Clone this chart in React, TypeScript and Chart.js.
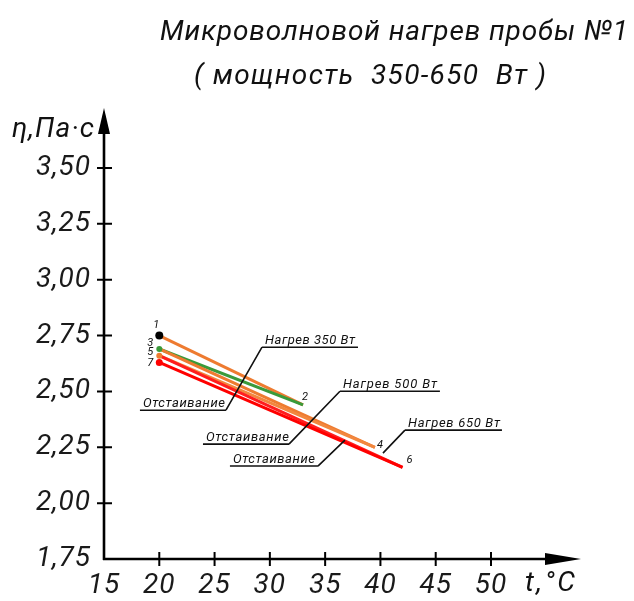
import React, { useEffect, useRef } from 'react';
import { Chart, registerables } from 'chart.js';

Chart.register(...registerables);

const FONT = "Roboto, 'Noto Sans', sans-serif";

// ---------- data ----------
const titleLines = ['Микроволновой нагрев пробы №1', '( мощность  350-650  Вт )'];
const yAxisTitle = 'η,Па·с';
const xAxisTitle = 't,°C';

const xMin = 15;
const xMax = 50;
const xStep = 5;
const yMin = 1.75;
const yMax = 3.5;
const yStep = 0.25;
const yTickLabels = ['1,75', '2,00', '2,25', '2,50', '2,75', '3,00', '3,25', '3,50'];

const pointNames = ['1', '2', '3', '4', '5', '6', '7'];
const pointTemp = [20, 33.0, 20, 39.5, 20, 42.0, 20];
const pointVisc = [2.75, 2.44, 2.69, 2.25, 2.66, 2.16, 2.63];

const stageNames = ['Нагрев 350 Вт', 'Отстаивание', 'Нагрев 500 Вт', 'Отстаивание', 'Нагрев 650 Вт', 'Отстаивание'];
const stageStart = [0, 1, 2, 3, 4, 5];
const stageEnd = [1, 2, 3, 4, 5, 6];

// callout labels (underline from noteT1 to noteT2 at noteVisc)
const noteTexts = ['Нагрев 350 Вт', 'Отстаивание', 'Нагрев 500 Вт', 'Отстаивание', 'Нагрев 650 Вт', 'Отстаивание'];
const noteT1 = [29.29, 18.25, 36.34, 23.95, 42.22, 26.39];
const noteT2 = [37.97, 26.03, 45.38, 31.73, 50.99, 34.35];
const noteVisc = [2.698, 2.416, 2.501, 2.264, 2.327, 2.166];
// leader lines
const leaderT1 = [29.29, 36.34, 42.22, 34.35];
const leaderV1 = [2.698, 2.501, 2.327, 2.166];
const leaderT2 = [26.03, 31.73, 40.23, 36.79];
const leaderV2 = [2.416, 2.264, 2.224, 2.282];

// ---------- styles ----------
const stageColors = ['#EE7B30', '#3A9A3A', '#EE7B30', '#F2873E', '#FF1E1E', '#FF0000'];
const markerColors = ['#000000', null, '#3A9A3A', null, '#EE7B30', null, '#FF0000'];
const markerRadius = [4, 0, 3, 0, 3, 0, 3.5];
const pointLabelOffset: [number, number][] = [
  [-3, -10], [2, -8], [-9, -6], [5, -2], [-9, -3], [7, -7], [-9, 1],
];
const noteWidths = [90, 82, 94, 83, 92, 82];

function drawText(
  ctx: CanvasRenderingContext2D, text: string, x: number, y: number,
  size: number, align: CanvasTextAlign, baseline: CanvasTextBaseline,
  targetWidth = 0, color = '#111'
) {
  ctx.save();
  ctx.font = `italic ${size}px ${FONT}`;
  (ctx as any).letterSpacing = '0px';
  let spacing = 0;
  if (targetWidth > 0 && text.length > 1) {
    const w = ctx.measureText(text).width;
    spacing = (targetWidth - w) / (text.length - 1);
  }
  (ctx as any).letterSpacing = `${spacing}px`;
  ctx.fillStyle = color;
  ctx.textAlign = align;
  ctx.textBaseline = baseline;
  ctx.fillText(text, x, y);
  ctx.restore();
}

const drawingPlugin = {
  id: 'drawing',
  beforeDraw(chart: any) {
    (chart.ctx as any).letterSpacing = '1px';
  },
  afterDatasetsDraw(chart: any) {
    const ctx: CanvasRenderingContext2D = chart.ctx;
    (ctx as any).letterSpacing = '0px';
    const xs = chart.scales.x;
    const ys = chart.scales.y;
    const left = xs.left;
    const bottom = ys.bottom;
    const top = ys.top;
    const right = xs.right;

    // axes
    ctx.save();
    ctx.strokeStyle = '#000';
    ctx.fillStyle = '#000';
    ctx.lineWidth = 2.6;
    ctx.lineCap = 'butt';
    ctx.beginPath();
    ctx.moveTo(left, bottom + 1);
    ctx.lineTo(left, top - 50);
    ctx.moveTo(left - 1, bottom);
    ctx.lineTo(right + 60, bottom);
    ctx.stroke();
    const yTip = top - 60;
    ctx.beginPath();
    ctx.moveTo(left, yTip);
    ctx.lineTo(left - 6, yTip + 26);
    ctx.lineTo(left + 6, yTip + 26);
    ctx.closePath();
    ctx.fill();
    const xTip = right + 90;
    ctx.beginPath();
    ctx.moveTo(xTip, bottom);
    ctx.lineTo(xTip - 36, bottom - 6);
    ctx.lineTo(xTip - 36, bottom + 6);
    ctx.closePath();
    ctx.fill();
    ctx.lineWidth = 2;
    ctx.beginPath();
    xs.ticks.forEach((t: any, i: number) => {
      if (i === 0) return;
      const px = xs.getPixelForValue(t.value);
      ctx.moveTo(px, bottom - 7);
      ctx.lineTo(px, bottom + 7);
    });
    ys.ticks.forEach((t: any, i: number) => {
      if (i === 0) return;
      const py = ys.getPixelForValue(t.value);
      ctx.moveTo(left - 7, py);
      ctx.lineTo(left + 8, py);
    });
    ctx.stroke();
    ctx.restore();

    // axis titles
    drawText(ctx, yAxisTitle, 12, top - 38, 28, 'left', 'middle', 82);
    drawText(ctx, xAxisTitle, 525, bottom + 25, 28, 'left', 'middle', 50);

    // title
    drawText(ctx, titleLines[0], 160, 40, 28, 'left', 'alphabetic', 468);
    drawText(ctx, titleLines[1], 194, 84, 28, 'left', 'alphabetic', 352);

    // point labels
    pointNames.forEach((n, i) => {
      const px = xs.getPixelForValue(pointTemp[i]) + pointLabelOffset[i][0];
      const py = ys.getPixelForValue(pointVisc[i]) + pointLabelOffset[i][1];
      drawText(ctx, n, px, py, 11, 'center', 'middle', 0, '#111');
    });

    // callouts
    ctx.save();
    ctx.strokeStyle = '#111';
    ctx.lineWidth = 1.6;
    ctx.beginPath();
    noteTexts.forEach((_, i) => {
      const y = ys.getPixelForValue(noteVisc[i]);
      ctx.moveTo(xs.getPixelForValue(noteT1[i]), y);
      ctx.lineTo(xs.getPixelForValue(noteT2[i]), y);
    });
    leaderT1.forEach((_, i) => {
      ctx.moveTo(xs.getPixelForValue(leaderT1[i]), ys.getPixelForValue(leaderV1[i]));
      ctx.lineTo(xs.getPixelForValue(leaderT2[i]), ys.getPixelForValue(leaderV2[i]));
    });
    ctx.stroke();
    ctx.restore();
    noteTexts.forEach((t, i) => {
      const x = xs.getPixelForValue(noteT1[i]) + 3;
      const y = ys.getPixelForValue(noteVisc[i]) - 3;
      drawText(ctx, t, x, y, 13, 'left', 'alphabetic', noteWidths[i], '#111');
    });
  },
};

export default function App() {
  const ref = useRef<HTMLCanvasElement | null>(null);
  useEffect(() => {
    if (!ref.current) return;
    const datasets: any[] = stageNames.map((name, i) => ({
      label: name,
      data: [
        { x: pointTemp[stageStart[i]], y: pointVisc[stageStart[i]] },
        { x: pointTemp[stageEnd[i]], y: pointVisc[stageEnd[i]] },
      ],
      showLine: true,
      borderColor: stageColors[i],
      backgroundColor: stageColors[i],
      borderWidth: 3,
      pointRadius: 0,
      order: 6 - i,
    }));
    datasets.push({
      label: 'points',
      data: pointNames.map((_, i) => ({ x: pointTemp[i], y: pointVisc[i] })),
      showLine: false,
      pointRadius: markerRadius,
      pointBackgroundColor: markerColors.map((c) => c || 'rgba(0,0,0,0)'),
      pointBorderWidth: 0,
      order: 0,
    });
    const chart = new Chart(ref.current, {
      type: 'scatter',
      data: { datasets },
      options: {
        animation: false,
        responsive: false,
        events: [],
        layout: { padding: { top: 168, right: 143, left: 0, bottom: 0 } },
        plugins: { legend: { display: false }, tooltip: { enabled: false }, title: { display: false } },
        scales: {
          x: {
            type: 'linear',
            min: xMin,
            max: xMax,
            afterFit: (s: any) => { s.height = 42; },
            grid: { display: false, drawTicks: true, tickLength: 7 },
            border: { display: false },
            ticks: {
              stepSize: xStep,
              padding: 3,
              color: '#1a1a1a',
              font: { family: FONT, size: 28, style: 'italic' },
              maxRotation: 0,
              autoSkip: false,
            },
          },
          y: {
            type: 'linear',
            min: yMin,
            max: yMax,
            afterFit: (s: any) => { s.width = 104; },
            grid: { display: false, drawTicks: true, tickLength: 7 },
            border: { display: false },
            ticks: {
              stepSize: yStep,
              padding: 6,
              color: '#1a1a1a',
              font: { family: FONT, size: 28, style: 'italic' },
              autoSkip: false,
              callback: (_v: any, i: number) => yTickLabels[i],
            },
          },
        },
      },
      plugins: [drawingPlugin],
    });
    return () => chart.destroy();
  }, []);
  return (
    <div style={{ position: 'fixed', left: 0, top: 0, width: 634, height: 601, background: '#fff' }}>
      <canvas ref={ref} width={634} height={601} style={{ width: 634, height: 601, display: 'block' }} />
    </div>
  );
}
